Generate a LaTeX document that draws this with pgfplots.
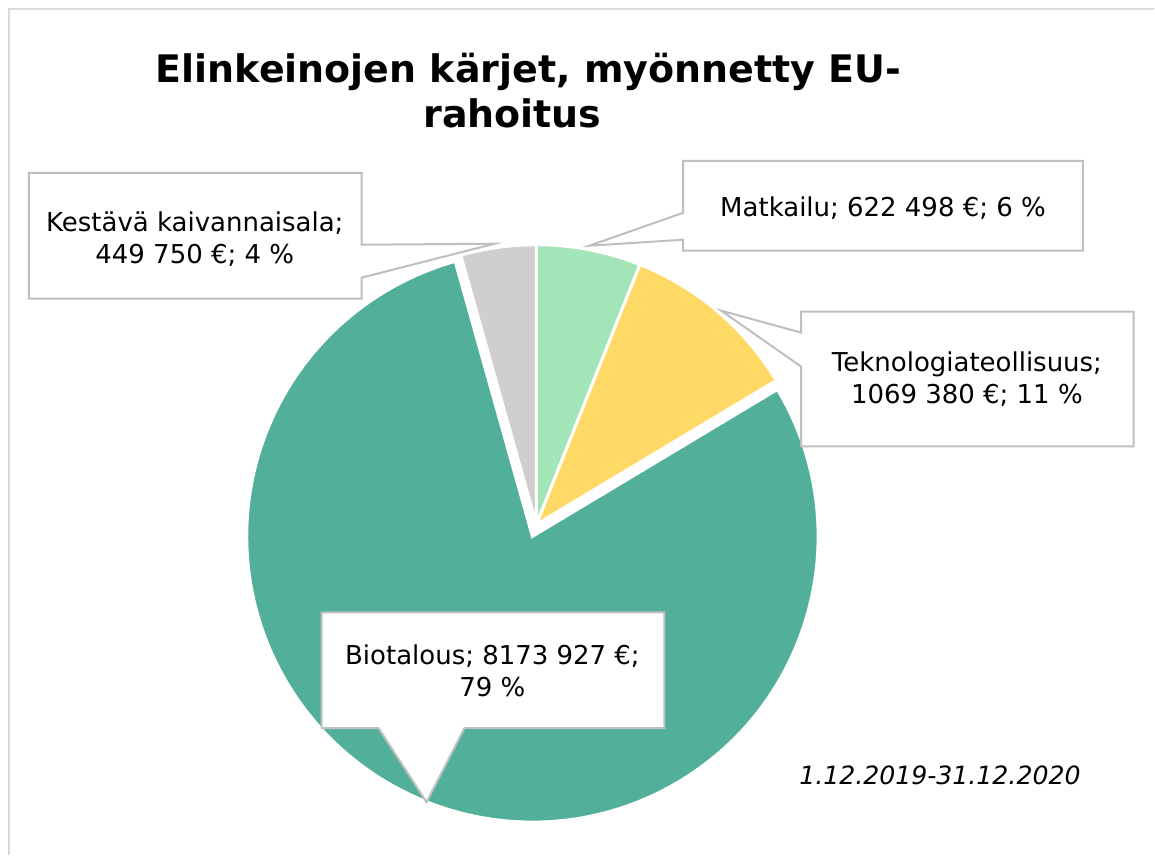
\documentclass[border=0pt]{standalone}
\usepackage{fontspec}
\setmainfont{DejaVu Sans}
\usepackage{pgfplots}
\usepackage{pgfplotstable}
\pgfplotsset{compat=1.18}
\definecolor{cBio}{HTML}{52B09A}
\definecolor{cMat}{HTML}{A3E4B9}
\definecolor{cTek}{HTML}{FFD966}
\definecolor{cKes}{HTML}{D0CECE}
\definecolor{cBox}{HTML}{BFBFBF}
\definecolor{cFrame}{HTML}{D9D9D9}
% values in thousands of euros
\pgfplotstableread{
sector value
Matkailu 622.498
Teknologiateollisuus 1069.380
Biotalous 8173.927
Kaivannaisala 449.750
}\datatable
\begin{document}
\begin{tikzpicture}
\pgfplotstablegetelem{0}{value}\of{\datatable}\let\vM\pgfplotsretval
\pgfplotstablegetelem{1}{value}\of{\datatable}\let\vT\pgfplotsretval
\pgfplotstablegetelem{2}{value}\of{\datatable}\let\vB\pgfplotsretval
\pgfplotstablegetelem{3}{value}\of{\datatable}\let\vK\pgfplotsretval
\pgfmathsetmacro\tot{\vM+\vT+\vB+\vK}
\pgfmathsetmacro\aA{90}
\pgfmathsetmacro\aB{\aA-360*(\vM/\tot)}
\pgfmathsetmacro\aC{\aB-360*(\vT/\tot)}
\pgfmathsetmacro\aD{\aC-360*(\vB/\tot)}
\pgfmathsetmacro\aE{\aD-360*(\vK/\tot)}
\begin{axis}[
  scale only axis, width=577.5pt, height=428pt,
  xmin=0, xmax=1155, ymin=0, ymax=856, y dir=reverse,
  hide axis, clip=false]
\fill[white] (axis cs:0,0) rectangle (axis cs:1155,856);
\draw[cFrame, line width=1.3pt] (axis cs:9,856) -- (axis cs:9,9) -- (axis cs:1155,9);
% pie
\filldraw[fill=cBio, draw=white, line width=1.5pt] (axis cs:533,537) -- ++(\aC:143pt) arc[start angle=\aC, end angle=\aD, radius=143pt] -- cycle;
\filldraw[fill=cMat, draw=white, line width=1.5pt] (axis cs:537,525) -- ++(\aA:140pt) arc[start angle=\aA, end angle=\aB, radius=140pt] -- cycle;
\filldraw[fill=cTek, draw=white, line width=1.5pt] (axis cs:537,525) -- ++(\aB:140pt) arc[start angle=\aB, end angle=\aC, radius=140pt] -- cycle;
\filldraw[fill=cKes, draw=white, line width=1.5pt] (axis cs:537,525) -- ++(\aD:140pt) arc[start angle=\aD, end angle=\aE, radius=140pt] -- cycle;
% callouts
\filldraw[fill=white, draw=cBox, line width=1pt, line join=miter]
  (axis cs:29,173) -- (axis cs:362,173) -- (axis cs:362,245) -- (axis cs:495,244) -- (axis cs:362,278) -- (axis cs:362,299) -- (axis cs:29,299) -- cycle;
\filldraw[fill=white, draw=cBox, line width=1pt, line join=miter]
  (axis cs:684,161) -- (axis cs:1084,161) -- (axis cs:1084,251) -- (axis cs:684,251) -- (axis cs:684,240) -- (axis cs:590,246) -- (axis cs:684,213) -- cycle;
\filldraw[fill=white, draw=cBox, line width=1pt, line join=miter]
  (axis cs:802,312) -- (axis cs:1135,312) -- (axis cs:1135,447) -- (axis cs:802,447) -- (axis cs:802,367) -- (axis cs:722,311) -- (axis cs:802,333) -- cycle;
\filldraw[fill=white, draw=cBox, line width=1pt, line join=miter]
  (axis cs:322,613) -- (axis cs:665,613) -- (axis cs:665,729) -- (axis cs:465,729) -- (axis cs:427,803) -- (axis cs:379,729) -- (axis cs:322,729) -- cycle;
% labels
\node[align=center, font=\fontsize{13}{16}\selectfont] at (axis cs:195,239) {Kestävä kaivannaisala;\\449 750 €; 4 \%};
\node[align=center, font=\fontsize{13}{16}\selectfont] at (axis cs:884,208) {Matkailu; 622 498 €; 6 \%};
\node[align=center, font=\fontsize{13}{16}\selectfont] at (axis cs:968,380) {Teknologiateollisuus;\\1069 380 €; 11 \%};
\node[align=center, font=\fontsize{13}{16}\selectfont] at (axis cs:493,672) {Biotalous; 8173 927 €;\\79 \%};
% title
\node[font=\fontsize{19}{22}\selectfont\bfseries] at (axis cs:529,72) {Elinkeinojen kärjet, myönnetty EU-};
\node[font=\fontsize{19}{22}\selectfont\bfseries] at (axis cs:513,113) {rahoitus};
% date
\node[font=\fontsize{12.6}{16}\selectfont\itshape] at (axis cs:941,776) {1.12.2019-31.12.2020};
\end{axis}
\end{tikzpicture}
\end{document}
